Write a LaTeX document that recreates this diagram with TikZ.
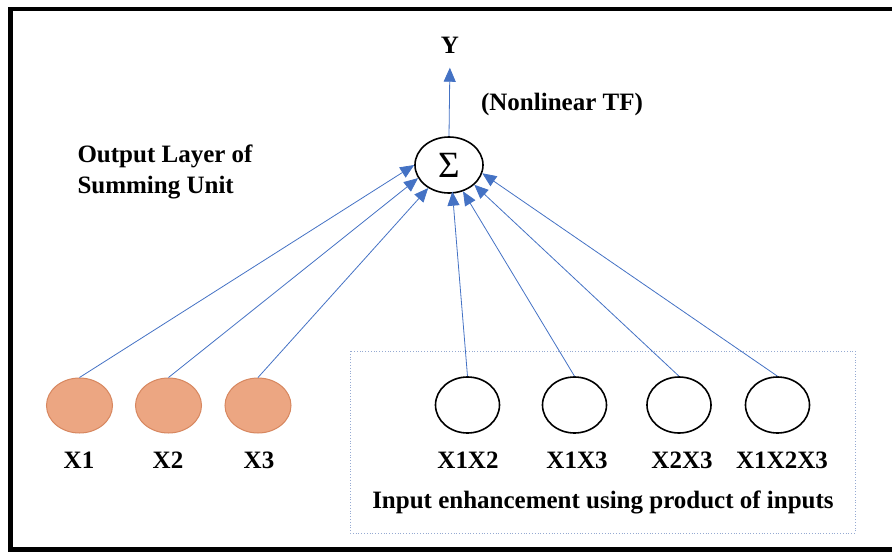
\documentclass[tikz,border=0pt]{standalone}
\usepackage{fontspec}
\setmainfont{Liberation Serif}
\usetikzlibrary{shapes.geometric,arrows.meta}
\definecolor{linkblue}{RGB}{68,114,196}
\definecolor{inpfill}{RGB}{236,166,130}
\definecolor{inpdraw}{RGB}{215,135,95}
\definecolor{boxgrey}{RGB}{150,170,210}
\begin{document}
\begin{tikzpicture}[x=1pt,y=-1pt,
  lbl/.style={font=\fontsize{25}{31}\selectfont\bfseries},
  inp/.style={ellipse,draw=inpdraw,fill=inpfill,line width=1pt,minimum width=66pt,minimum height=55pt,inner sep=0pt},
  prod/.style={ellipse,draw,line width=1.6pt,minimum width=64pt,minimum height=56pt,inner sep=0pt},
  link/.style={draw=linkblue,line width=0.8pt,-{Triangle[width=12pt,length=14pt]}}]
\useasboundingbox (0,0) rectangle (892,552);
\draw[line width=4.5pt] (10.5,9) rectangle (900,549.5);
\draw[boxgrey,dotted,line width=0.8pt] (350,351) rectangle (855,533);
\node[ellipse,draw,line width=1.6pt,minimum width=68pt,minimum height=56pt,inner sep=0pt,font=\fontsize{37}{37}\selectfont] (sum) at (449,165) {Σ};
\node[lbl] (y) at (450,45) {Y};
\node[lbl] (tf) at (562,104) {(Nonlinear TF)};
\node[lbl,align=left,anchor=west] (outl) at (74,172) {Output Layer of\\Summing Unit};
\node[inp] (x1) at (79.5,405.5) {};
\node[inp] (x2) at (168.5,405.5) {};
\node[inp] (x3) at (258,405.5) {};
\node[prod] (x12) at (467.5,405) {};
\node[prod] (x13) at (574.5,405) {};
\node[prod] (x23) at (679,405) {};
\node[prod] (x123) at (777.5,405) {};
\node[lbl] (l1) at (79,460) {X1};
\node[lbl] (l2) at (168,460) {X2};
\node[lbl] (l3) at (259,460) {X3};
\node[lbl] (l12) at (468,460) {X1X2};
\node[lbl] (l13) at (577,460) {X1X3};
\node[lbl] (l23) at (682,460) {X2X3};
\node[lbl] (l123) at (782,460) {X1X2X3};
\node[lbl] (enh) at (603,502) {Input enhancement using product of inputs};
\draw[link,shorten >=11pt] (sum.north) -- (y.south);
\draw[link] (x1.north) -- (sum.180);
\draw[link] (x2.north) -- (sum.203);
\draw[link] (x3.north) -- (sum.228);
\draw[link,shorten >=-2pt] (x12.north) -- (sum.277);
\draw[link] (x13.north) -- (sum.298);
\draw[link] (x23.north) -- (sum.322);
\draw[link] (x123.north) -- (sum.346);
\end{tikzpicture}
\end{document}
